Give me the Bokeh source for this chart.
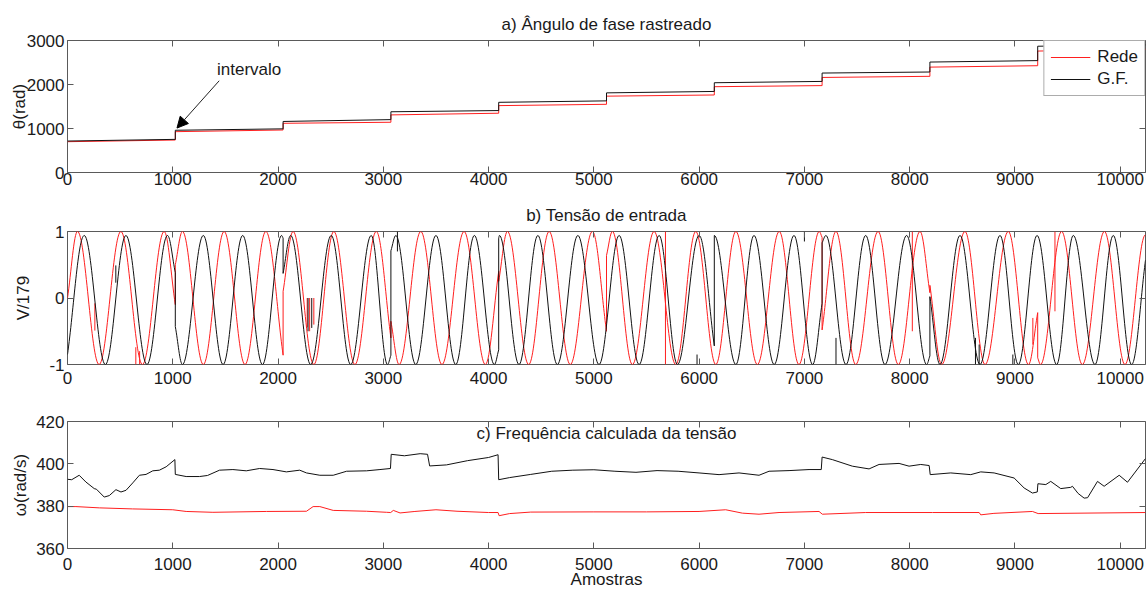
import numpy as np
from bokeh.plotting import figure
from bokeh.layouts import column
from bokeh.models import Range1d, FixedTicker, LinearAxis, Label, Arrow, NormalHead
from bokeh.embed import file_html
from bokeh.resources import INLINE

FONT = "Liberation Sans"
RED = "#ff1f1f"
BLACK = "#111111"
AXC = "#5a5a5a"

# ---------------- data ----------------
# x ticks (samples)
x_ticks = [0, 1000, 2000, 3000, 4000, 5000, 6000, 7000, 8000, 9000, 10000]
n_amostras = 10240

# a) tracked phase angle: window limits and theta at start/end of each window
janelas = [0, 1024, 2048, 3072, 4096, 5120, 6144, 7168, 8192, 9216, 10240]
theta_rede_ini = [700, 928, 1118, 1309, 1520, 1735, 1950, 2160, 2395, 2760]
theta_rede_fim = [738, 966, 1142, 1347, 1550, 1762, 1975, 2186, 2427, 2800]
theta_gf_ini = [715, 960, 1160, 1380, 1595, 1810, 2040, 2260, 2510, 2870]
theta_gf_fim = [753, 992, 1202, 1408, 1628, 1842, 2070, 2284, 2543, 2900]
theta_ticks = [0, 1000, 2000, 3000]

# b) input voltage: extrema / jump points (x in samples, y in V/179)
rede_v_x = [0, 95, 300, 507, 712, 918, 1024, 1024, 1092, 1290, 1488, 1686, 1884, 2048, 2048,
            2143, 2340, 2530, 2730, 2933, 3072, 3072, 3150, 3356, 3557, 3767, 3969, 4096, 4096,
            4179, 4381, 4575, 4776, 4986, 5120, 5120, 5176, 5366, 5572, 5778, 5968, 6158, 6349,
            6553, 6761, 6948, 7141, 7168, 7168, 7300, 7487, 7700, 7892, 8098, 8192, 8192, 8304,
            8525, 8716, 8937, 9128, 9216, 9216, 9243, 9443, 9640, 9850, 10045, 10240]
rede_v_y = [0.0, 1, -1, 1, -1, 1, -0.1, 0.5, 1, -1, 1, -1, 1, -0.86, 0.1,
            1, -1, 1, -1, 1, -0.6, -0.35, -1, 1, -1, 1, -1, 0.4, 0.25,
            1, -1, 1, -1, 1, -0.5, 0.64, 1, -1, 1, -1, 1, -1, 1,
            -1, 1, -1, 1, 0.91, -0.48, 1, -1, 1, -1, 1, 0.08, 0.19, -1,
            1, -1, 1, -1, -0.22, -0.9, -1, 1, -1, 1, -1, 0.95]
gf_v_x = [0, 159, 360, 555, 755, 950, 1024, 1024, 1092, 1290, 1478, 1664, 1852, 2034, 2048, 2048,
          2120, 2310, 2505, 2690, 2885, 3040, 3072, 3072, 3119, 3308, 3500, 3688, 3865, 4055,
          4096, 4096, 4103, 4289, 4468, 4653, 4848, 5049, 5240, 5430, 5620, 5794, 6000, 6144,
          6144, 6349, 6521, 6713, 6901, 7078, 7168, 7168, 7204, 7395, 7582, 7765, 7971, 8161,
          8192, 8192, 8288, 8478, 8668, 8858, 9032, 9210, 9396, 9554, 9760, 9934, 10108, 10240]
gf_v_y = [-0.85, 0.94, -1, 0.94, -1, 0.94, 0.38, -0.43, -1, 0.94, -1, 0.94, -1, 0.94, 0.9, 0.37,
          0.94, -1, 0.94, -1, 0.94, -1, -0.86, 0.71, 0.94, -1, 0.94, -1, 0.94, -1,
          -0.78, 0.9, 0.94, -1, 0.94, -1, 0.94, -1, 0.94, -1, 0.94, -1, 0.94, -0.72,
          0.94, -1, 0.94, -1, 0.94, -1, -0.08, 0.83, 0.94, -1, 0.94, -1, 0.94, -1,
          -0.87, 0.02, -1, 0.94, -1, 0.94, -1, 0.94, -1, 0.94, -1, 0.94, -1, 0.57]
# short glitches (vertical spikes)
rede_spk_x = [260, 649, 685, 2277, 2300, 2340, 5680, 8025, 9170, 9380]
rede_spk_y0 = [-0.08, -0.74, -0.8, 0.0, 0.0, 0.0, 1.0, 1.0, -0.3, 1.0]
rede_spk_y1 = [-0.49, -1.0, -1.0, -0.44, -0.5, -0.4, -1.0, -0.5, -0.7, -0.2]
gf_spk_x = [459, 2285, 2320, 3134, 5980, 7000, 7300, 8625, 8660, 8980]
gf_spk_y0 = [0.49, 0.0, 0.0, 1.0, -0.85, 1.0, -0.6, -0.6, -0.7, -0.85]
gf_spk_y1 = [0.23, -0.5, -0.45, 0.7, -1.0, 0.85, -1.0, -1.0, -1.0, -1.0]
v_ticks = [-1, 0, 1]

# c) computed frequency (rad/s)
gf_w_x = [0, 40, 111, 175, 254, 275, 349, 397, 460, 508, 556, 620, 683, 746, 810, 873, 937, 1020,
          1024, 1127, 1254, 1330, 1444, 1571, 1698, 1825, 1952, 2079, 2206, 2270, 2397, 2524,
          2651, 2841, 2968, 3068, 3075, 3200, 3350, 3420, 3440, 3600, 3800, 4000, 4090, 4096,
          4200, 4400, 4600, 4800, 5000, 5200, 5400, 5600, 5800, 5999, 6189, 6379, 6569, 6664,
          6854, 7044, 7160, 7168, 7265, 7455, 7614, 7709, 7899, 7994, 8105, 8185, 8195, 8390,
          8580, 8675, 8802, 8992, 9087, 9166, 9212, 9218, 9293, 9340, 9435, 9530, 9546, 9600,
          9657, 9690, 9784, 9847, 9990, 10069, 10240]
gf_w_y = [392.7, 392.5, 394.6, 391.4, 388.3, 388.0, 384.3, 385.0, 387.8, 386.7, 387.5, 391.0,
          394.6, 395.0, 396.7, 397.0, 398.6, 402.0, 395.0, 394.0, 394.0, 394.5, 397.0, 397.3,
          396.7, 397.8, 397.3, 396.2, 397.0, 395.7, 394.6, 394.6, 396.5, 396.7, 397.3, 397.8,
          404.5, 403.8, 404.8, 404.5, 399.0, 399.5, 401.5, 403.0, 404.3, 392.5, 393.5, 395.0,
          396.5, 397.0, 397.2, 396.5, 396.0, 396.8, 396.5, 395.7, 394.9, 395.7, 394.6, 396.5,
          396.8, 397.3, 397.3, 403.2, 402.0, 398.9, 397.6, 399.7, 400.2, 398.9, 399.7, 399.2,
          394.9, 395.7, 394.9, 396.2, 395.7, 393.3, 388.6, 386.2, 386.7, 390.6, 390.2, 391.7,
          388.3, 388.9, 389.4, 386.0, 383.8, 384.0, 391.7, 389.4, 394.6, 391.3, 402.5]
rede_w_x = [0, 80, 302, 619, 1000, 1127, 1381, 1889, 2270, 2333, 2397, 2524, 2841, 3032, 3070,
            3095, 3159, 3300, 3500, 3700, 4000, 4090, 4100, 4200, 4400, 5000, 5500, 5999, 6252,
            6411, 6569, 6759, 7139, 7170, 7582, 8216, 8660, 8675, 8800, 9166, 9220, 10240]
rede_w_y = [379.8, 379.8, 379.2, 378.7, 378.3, 377.5, 377.1, 377.5, 377.6, 379.8, 379.8, 378.0,
            377.6, 377.1, 377.0, 378.0, 376.8, 377.5, 378.3, 377.6, 377.0, 377.0, 375.5, 376.5,
            377.2, 377.3, 377.3, 377.5, 378.3, 376.7, 376.2, 377.0, 377.5, 376.2, 377.0, 377.0,
            377.0, 375.9, 376.6, 377.5, 376.5, 377.0]
w_ticks = [360, 380, 400, 420]

# panel titles
titulo_a = "a) Ângulo de fase rastreado"
titulo_b = "b) Tensão de entrada"
titulo_c = "c) Frequência calculada da tensão"


# ---------------- helpers ----------------
def overrides(ticks):
    return {t: str(t) for t in ticks}


def make_fig(frame_h, top, bottom, y0, y1, yticks, ylabel, ylab_standoff, xlab_standoff):
    p = figure(frame_width=1078, frame_height=frame_h, min_border_left=67, min_border_right=1,
               min_border_top=top, min_border_bottom=bottom,
               x_range=Range1d(0, n_amostras), y_range=Range1d(y0, y1),
               output_backend="svg", toolbar_location=None)
    p.xgrid.visible = False
    p.ygrid.visible = False
    p.outline_line_color = AXC
    p.outline_line_width = 1
    p.background_fill_color = "white"
    p.border_fill_color = "white"
    xax = p.below[0]
    yax = p.left[0]
    for ax, ticks, st in ((xax, x_ticks, xlab_standoff), (yax, yticks, 3)):
        ax.ticker = FixedTicker(ticks=ticks)
        ax.major_label_overrides = overrides(ticks)
        ax.axis_line_color = None
        ax.major_tick_in = 6
        ax.major_tick_out = 0
        ax.major_tick_line_color = AXC
        ax.minor_tick_line_color = None
        ax.major_label_text_font = FONT
        ax.major_label_text_font_size = "17px"
        ax.major_label_text_color = "#1a1a1a"
        ax.major_label_standoff = st
    yax.axis_label = ylabel
    yax.axis_label_text_font = FONT
    yax.axis_label_text_font_size = "17px"
    yax.axis_label_text_font_style = "normal"
    yax.axis_label_text_color = "#1a1a1a"
    yax.axis_label_standoff = ylab_standoff
    # mirrored ticks (box style), labels not drawn
    for loc, ticks in (("above", x_ticks), ("right", yticks)):
        ax = LinearAxis(ticker=FixedTicker(ticks=ticks), axis_line_color=None,
                        major_tick_in=6, major_tick_out=0, major_tick_line_color=AXC,
                        minor_tick_line_color=None, major_label_text_font_size="1px",
                        major_label_text_color=None, major_label_standoff=0)
        p.add_layout(ax, loc)
    return p, xax, yax


def style_title(p, text, standoff):
    p.title.text = text
    p.title.align = "center"
    p.title.vertical_align = "top"
    p.title.text_font = FONT
    p.title.text_font_size = "17px"
    p.title.text_font_style = "normal"
    p.title.text_color = "#1a1a1a"
    p.title.standoff = standoff


def bezier_parts(xs, ys, ext=0.93, k=0.3634):
    bx0, by0, bx1, by1, bcx0, bcy0, bcx1, bcy1 = ([] for _ in range(8))
    sx, sy0, sy1 = [], [], []
    for i in range(len(xs) - 1):
        xa, ya, xb, yb = xs[i], ys[i], xs[i + 1], ys[i + 1]
        if xb == xa:
            sx.append(xa); sy0.append(ya); sy1.append(yb)
            continue
        d = xb - xa
        bx0.append(xa); by0.append(ya); bx1.append(xb); by1.append(yb)
        bcx0.append(xa + k * d)
        bcy0.append(ya if abs(ya) >= ext else ya + k * (yb - ya))
        bcx1.append(xb - k * d)
        bcy1.append(yb if abs(yb) >= ext else yb - k * (yb - ya))
    return (dict(x0=bx0, y0=by0, x1=bx1, y1=by1, cx0=bcx0, cy0=bcy0, cx1=bcx1, cy1=bcy1),
            dict(x=sx, y0=sy0, y1=sy1))


# ---------------- a) ----------------
p1, _, _ = make_fig(132, 40, 26, 0, 3000, theta_ticks, "θ(rad)", -5, 0)
style_title(p1, titulo_a, 10)

def staircase(ini, fim):
    xs, ys = [], []
    for i in range(len(ini)):
        xs += [janelas[i], janelas[i + 1]]
        ys += [ini[i], fim[i]]
    return xs, ys

rx, ry = staircase(theta_rede_ini, theta_rede_fim)
gx, gy = staircase(theta_gf_ini, theta_gf_fim)
p1.line(rx, ry, line_color=RED, line_width=1, legend_label="Rede")
p1.line(gx, gy, line_color=BLACK, line_width=1, legend_label="G.F.")
lg = p1.legend[0]
lg.location = "top_right"
lg.margin = 0
lg.padding = 6
lg.spacing = 2
lg.glyph_width = 40
lg.glyph_height = 20
lg.label_height = 20
lg.label_standoff = 7
lg.label_text_font = FONT
lg.label_text_font_size = "17px"
lg.label_text_color = "#1a1a1a"
lg.border_line_color = AXC
lg.border_line_width = 1
lg.background_fill_alpha = 1.0

p1.add_layout(Arrow(end=NormalHead(size=11, fill_color="black", line_color="black"),
                    x_start=1441, y_start=2085, x_end=1040, y_end=1010,
                    line_color="#222222", line_width=1))
p1.add_layout(Label(x=1420, y=2337, text="intervalo", text_align="left",
                    text_baseline="middle", text_font=FONT, text_font_size="17px",
                    text_color="#1a1a1a"))

# ---------------- b) ----------------
p2, _, _ = make_fig(133, 33, 28, -1, 1, v_ticks, "V/179", 13, 7)
style_title(p2, titulo_b, 10)
for xs, ys, sx, s0, s1, col in ((rede_v_x, rede_v_y, rede_spk_x, rede_spk_y0, rede_spk_y1, RED),
                                (gf_v_x, gf_v_y, gf_spk_x, gf_spk_y0, gf_spk_y1, BLACK)):
    bz, vs = bezier_parts(xs, ys)
    p2.bezier(x0="x0", y0="y0", x1="x1", y1="y1", cx0="cx0", cy0="cy0", cx1="cx1", cy1="cy1",
              source=bz, line_color=col, line_width=1)
    p2.segment(x0="x", y0="y0", x1="x", y1="y1", source=vs, line_color=col, line_width=1)
    p2.segment(x0=sx, y0=s0, x1=sx, y1=s1, line_color=col, line_width=1)

# ---------------- c) ----------------
p3, xax3, _ = make_fig(127, 29, 42, 360, 420, w_ticks, "ω(rad/s)", 3, 9)
xax3.axis_label = "Amostras"
xax3.axis_label_text_font = FONT
xax3.axis_label_text_font_size = "17px"
xax3.axis_label_text_font_style = "normal"
xax3.axis_label_text_color = "#1a1a1a"
xax3.axis_label_standoff = -3
p3.line(rede_w_x, rede_w_y, line_color=RED, line_width=1)
p3.line(gf_w_x, gf_w_y, line_color=BLACK, line_width=1)
p3.add_layout(Label(x=n_amostras / 2, y=414.3, text=titulo_c, text_align="center",
                    text_baseline="middle", text_font=FONT, text_font_size="17px",
                    text_color="#1a1a1a"))

layout = column(p1, p2, p3, spacing=0)
open("out.html", "w").write(file_html(layout, INLINE))
